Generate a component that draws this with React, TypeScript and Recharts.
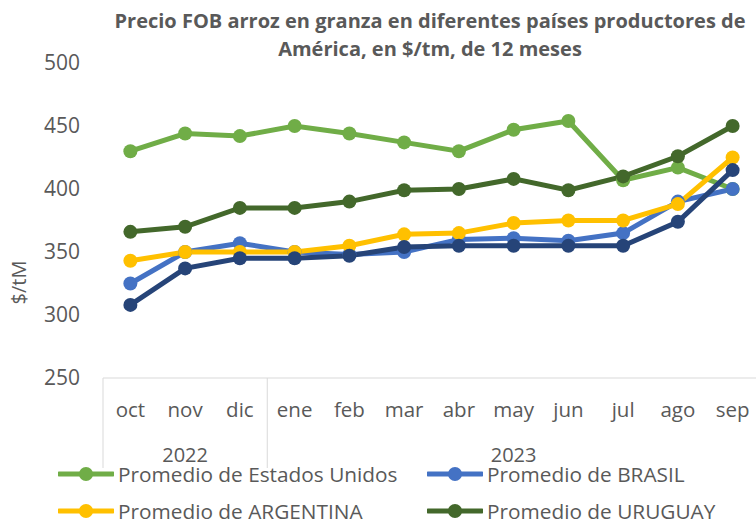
import React from 'react';
import { LineChart, Line, XAxis, YAxis } from 'recharts';

const months = ['oct', 'nov', 'dic', 'ene', 'feb', 'mar', 'abr', 'may', 'jun', 'jul', 'ago', 'sep'];
const years = ['2022', '2022', '2022', '2023', '2023', '2023', '2023', '2023', '2023', '2023', '2023', '2023'];

const estadosUnidos = [430, 444, 442, 450, 444, 437, 430, 447, 454, 407, 417, 400];
const brasil = [325, 350, 357, 350, 348, 350, 360, 361, 359, 365, 390, 400];
const argentina = [343, 350, 350, 350, 355, 364, 365, 373, 375, 375, 388, 425];
const uruguay = [366, 370, 385, 385, 390, 399, 400, 408, 399, 410, 426, 450];
const serie5 = [308, 337, 345, 345, 347, 354, 355, 355, 355, 355, 374, 415];

const yTicks = [250, 300, 350, 400, 450, 500];

const series = [
  { key: 'eeuu', name: 'Promedio de Estados Unidos', color: '#70ad47', values: estadosUnidos, legend: true },
  { key: 'brasil', name: 'Promedio de BRASIL', color: '#4472c4', values: brasil, legend: true },
  { key: 'argentina', name: 'Promedio de ARGENTINA', color: '#ffc000', values: argentina, legend: true },
  { key: 'uruguay', name: 'Promedio de URUGUAY', color: '#43682b', values: uruguay, legend: true },
  { key: 'serie5', name: 'Promedio', color: '#264478', values: serie5, legend: false },
];

const data = months.map((m, i) => {
  const row: Record<string, string | number> = { month: m, year: years[i] };
  series.forEach((s) => {
    row[s.key] = s.values[i];
  });
  return row;
});

const FONT = '"Open Sans", "Noto Sans", sans-serif';
const GREY = '#595959';

// month labels, plus the year row and its dividers under the first month of each year
const MonthTick = (props: any) => {
  const { x, y, payload, index } = props;
  const half = payload.offset || 27.4;
  const i = index ?? payload.index;
  const isGroupStart = i === 0 || years[i] !== years[i - 1];
  let groupLabel = null;
  let divider = null;
  if (isGroupStart) {
    let count = 0;
    while (i + count < years.length && years[i + count] === years[i]) count++;
    const cx = x - half + count * half;
    groupLabel = (
      <text x={cx} y={y + 76} textAnchor="middle" dominantBaseline="central" fill={GREY} fontSize={20} fontFamily={FONT}>
        {years[i]}
      </text>
    );
    divider = <line x1={x - half} x2={x - half} y1={y} y2={y + 90} stroke="#d9d9d9" strokeWidth={1} />;
  }
  return (
    <g>
      {divider}
      <text x={x} y={y + 31} textAnchor="middle" dominantBaseline="central" fill={GREY} fontSize={20.5} fontFamily={FONT}>
        {payload.value}
      </text>
      {groupLabel}
    </g>
  );
};

const YLabel = (props: any) => {
  const vb = props.viewBox || { x: 0, y: 63, height: 315 };
  const cx = 18;
  const cy = vb.y + vb.height / 2 + 62;
  return (
    <text x={cx} y={cy} transform={`rotate(-90 ${cx} ${cy})`} textAnchor="middle" dominantBaseline="central" fill={GREY} fontSize={20} fontFamily={FONT}>
      $/tM
    </text>
  );
};

const ChartLegend = () => {
  const items = series.filter((s) => s.legend);
  return (
    <div style={{ position: 'absolute', left: 0, top: 462, width: 756, height: 58, fontFamily: FONT, fontSize: 20.8, color: GREY, lineHeight: 1 }}>
      {items.map((s, i) => {
        const col = i % 2;
        const row = Math.floor(i / 2);
        return (
          <div
            key={s.key}
            style={{ position: 'absolute', left: col === 0 ? 58 : 427, top: row * 37, display: 'flex', alignItems: 'center', whiteSpace: 'nowrap', height: 24 }}
          >
            <svg width={56} height={20} style={{ marginRight: 4 }}>
              <line x1={1} x2={55} y1={10} y2={10} stroke={s.color} strokeWidth={5} strokeLinecap="round" />
              <circle cx={28} cy={10} r={7} fill={s.color} />
            </svg>
            <span>{s.name}</span>
          </div>
        );
      })}
    </div>
  );
};

export default function App() {
  return (
    <div style={{ position: 'fixed', left: 0, top: 0, width: 756, height: 521, overflow: 'hidden', background: '#fff' }}>
      <div style={{ position: 'absolute', left: 0, top: 0, width: 756, textAlign: 'center', fontFamily: FONT, fontWeight: 700, fontSize: 20, color: GREY, lineHeight: '28px', paddingTop: 7 }}>
        <div style={{ paddingLeft: 104 }}>Precio FOB arroz en granza en diferentes países productores de</div>
        <div style={{ paddingLeft: 104 }}>América, en $/tm, de 12 meses</div>
      </div>
      <div style={{ position: 'absolute', left: 0, top: 0 }}>
        <LineChart width={762} height={521} data={data} margin={{ top: 63, right: 2, left: 0, bottom: 0 }}>
          <XAxis
            dataKey="month"
            scale="band"
            axisLine={{ stroke: '#d9d9d9' }}
            tickLine={false}
            tickSize={0}
            tickMargin={0}
            interval={0}
            height={143}
            tick={<MonthTick />}
          />
          <YAxis
            width={103}
            domain={[250, 500]}
            ticks={yTicks}
            axisLine={false}
            tickLine={false}
            tickSize={0}
            tickMargin={23}
            tick={{ fill: GREY, fontSize: 21, fontFamily: FONT }}
            label={<YLabel />}
          />
          {series.map((s) => (
            <Line
              key={s.key}
              dataKey={s.key}
              name={s.name}
              stroke={s.color}
              strokeWidth={5}
              dot={{ r: 7, fill: s.color, stroke: s.color, strokeWidth: 0 }}
              activeDot={false}
              isAnimationActive={false}
            />
          ))}
        </LineChart>
      </div>
      <ChartLegend />
    </div>
  );
}
